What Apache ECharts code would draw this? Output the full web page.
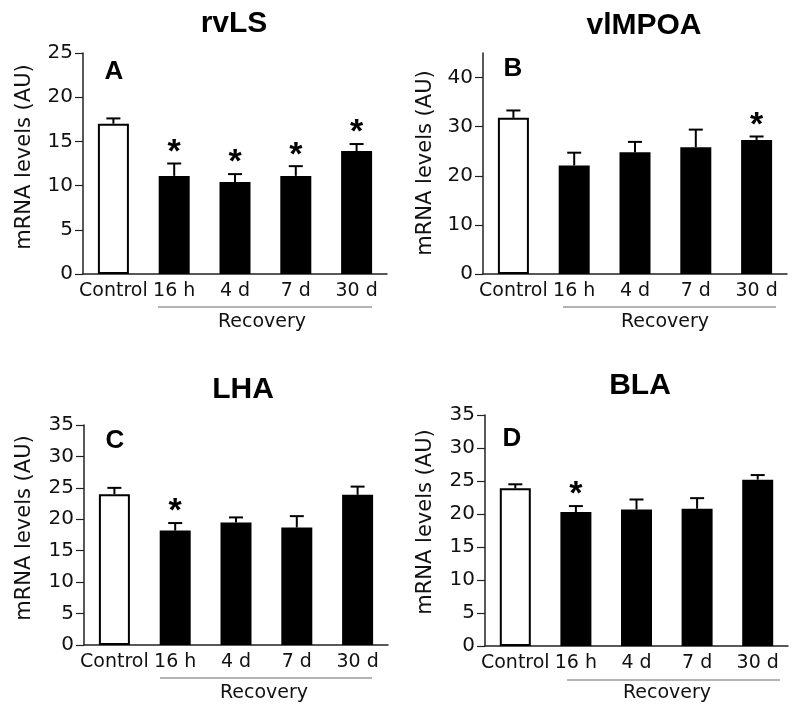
<!DOCTYPE html>
<html>
<head>
<meta charset="utf-8">
<script src="https://cdn.jsdelivr.net/npm/echarts@6/dist/echarts.min.js"></script>
<style>html,body{margin:0;padding:0;background:#fff}#c{width:800px;height:709px}</style>
</head>
<body>
<div id="c"></div>
<script>
// ---- data ----
const categories = ['Control', '16 h', '4 d', '7 d', '30 d'];
const panelTitles = ['rvLS', 'vlMPOA', 'LHA', 'BLA'];
const panelLetters = ['A', 'B', 'C', 'D'];
const rvLS_mean = [17.0, 11.1, 10.4, 11.1, 13.9];
const rvLS_sem = [0.6, 1.4, 0.9, 1.1, 0.8];
const rvLS_sig = [0, 1, 1, 1, 1];
const vlMPOA_mean = [31.8, 22.1, 24.8, 25.8, 27.3];
const vlMPOA_sem = [1.5, 2.6, 2.1, 3.6, 0.7];
const vlMPOA_sig = [0, 0, 0, 0, 1];
const LHA_mean = [24.0, 18.2, 19.5, 18.7, 23.9];
const LHA_sem = [1.0, 1.2, 0.8, 1.8, 1.3];
const LHA_sig = [0, 1, 0, 0, 0];
const BLA_mean = [23.9, 20.3, 20.7, 20.8, 25.2];
const BLA_sem = [0.6, 0.9, 1.5, 1.6, 0.7];
const BLA_sig = [0, 1, 0, 0, 0];
const yMax = [25, 45, 35, 35];
const yStep = [5, 10, 5, 5];
const yTicks = [[0, 5, 10, 15, 20, 25], [0, 10, 20, 30, 40], [0, 5, 10, 15, 20, 25, 30, 35], [0, 5, 10, 15, 20, 25, 30, 35]];
const yName = 'mRNA levels (AU)';
const groupLabel = 'Recovery';

const means = [rvLS_mean, vlMPOA_mean, LHA_mean, BLA_mean];
const sems = [rvLS_sem, vlMPOA_sem, LHA_sem, BLA_sem];
const sigs = [rvLS_sig, vlMPOA_sig, LHA_sig, BLA_sig];

// ---- layout ----
const grids = [
  {left: 83, top: 53, width: 304, height: 221},
  {left: 483, top: 53, width: 304, height: 221},
  {left: 84, top: 425, width: 304, height: 220},
  {left: 485, top: 415, width: 303, height: 231}
];
const titlePos = [[234, 24], [644, 26], [243, 390], [640, 386]];
const letterPos = [[114, 72], [513, 69], [115, 441], [512, 439]];
const yNamePos = [[25, 157], [426, 163], [25, 528], [426, 522]];
const recLine = [[158, 372, 307], [563, 776, 307], [160, 372, 678], [567, 780, 680]];
const recText = [[262, 322], [665, 322], [264, 693], [667, 693]];

const axisFont = 'DejaVu Sans';
const chart = echarts.init(document.getElementById('c'), null, {renderer: 'canvas'});

const option = {
  backgroundColor: '#fff',
  animation: false,
  grid: grids.map(g => Object.assign({containLabel: false}, g)),
  xAxis: grids.map((g, i) => ({
    type: 'category', gridIndex: i, data: categories,
    axisLine: {lineStyle: {color: '#222', width: 1.5}},
    axisTick: {show: false},
    axisLabel: {color: '#111', fontSize: 19, fontFamily: axisFont, margin: 8, interval: 0}
  })),
  yAxis: grids.map((g, i) => ({
    type: 'value', gridIndex: i, min: 0, max: yMax[i], interval: yStep[i],
    splitLine: {show: false},
    axisLine: {show: true, lineStyle: {color: '#222', width: 1.5}},
    axisTick: {show: true, length: 8, lineStyle: {color: '#222', width: 1.2}, customValues: yTicks[i]},
    axisLabel: {color: '#111', fontSize: 20, fontFamily: axisFont, margin: 10, customValues: yTicks[i]}
  })),
  series: [],
  graphic: []
};

for (let i = 0; i < 4; i++) {
  option.series.push({
    type: 'bar', xAxisIndex: i, yAxisIndex: i, barWidth: 31, z: 2,
    data: means[i].map((v, k) => ({
      value: v,
      itemStyle: k === 0
        ? {color: '#ffffff', borderColor: '#000', borderWidth: 2}
        : {color: '#000000', borderColor: '#000', borderWidth: 0}
    }))
  });
  option.series.push({
    type: 'custom', xAxisIndex: i, yAxisIndex: i, z: 3,
    data: means[i].map((v, k) => [k, v, v + sems[i][k], sigs[i][k]]),
    renderItem: function (params, api) {
      const x = api.value(0);
      const p0 = api.coord([x, api.value(1)]);
      const p1 = api.coord([x, api.value(2)]);
      const children = [
        {type: 'line', shape: {x1: p0[0], y1: p0[1], x2: p1[0], y2: p1[1]}, style: {stroke: '#000', lineWidth: 2}},
        {type: 'line', shape: {x1: p1[0] - 7, y1: p1[1], x2: p1[0] + 7, y2: p1[1]}, style: {stroke: '#000', lineWidth: 2}}
      ];
      if (api.value(3)) {
        children.push({type: 'text', x: p1[0], y: p1[1] - 11,
          style: {text: '*', fill: '#000', font: 'bold 34px "Liberation Sans"', align: 'center', verticalAlign: 'middle'}});
      }
      return {type: 'group', children: children};
    }
  });

  option.graphic.push(
    {type: 'text', x: titlePos[i][0], y: titlePos[i][1],
      style: {text: panelTitles[i], fill: '#000', font: 'bold 30px "Liberation Sans"', align: 'center', verticalAlign: 'middle'}},
    {type: 'text', x: letterPos[i][0], y: letterPos[i][1],
      style: {text: panelLetters[i], fill: '#000', font: 'bold 26px "Liberation Sans"', align: 'center', verticalAlign: 'middle'}},
    {type: 'text', x: yNamePos[i][0], y: yNamePos[i][1], rotation: Math.PI / 2,
      style: {text: yName, fill: '#111', font: '21px "DejaVu Sans"', align: 'center', verticalAlign: 'middle'}},
    {type: 'line', shape: {x1: recLine[i][0], y1: recLine[i][2], x2: recLine[i][1], y2: recLine[i][2]},
      style: {stroke: '#9a9a9a', lineWidth: 1.5}},
    {type: 'text', x: recText[i][0], y: recText[i][1],
      style: {text: groupLabel, fill: '#111', font: '19px "DejaVu Sans"', align: 'center', verticalAlign: 'middle'}}
  );
}

chart.setOption(option);
</script>
</body>
</html>
